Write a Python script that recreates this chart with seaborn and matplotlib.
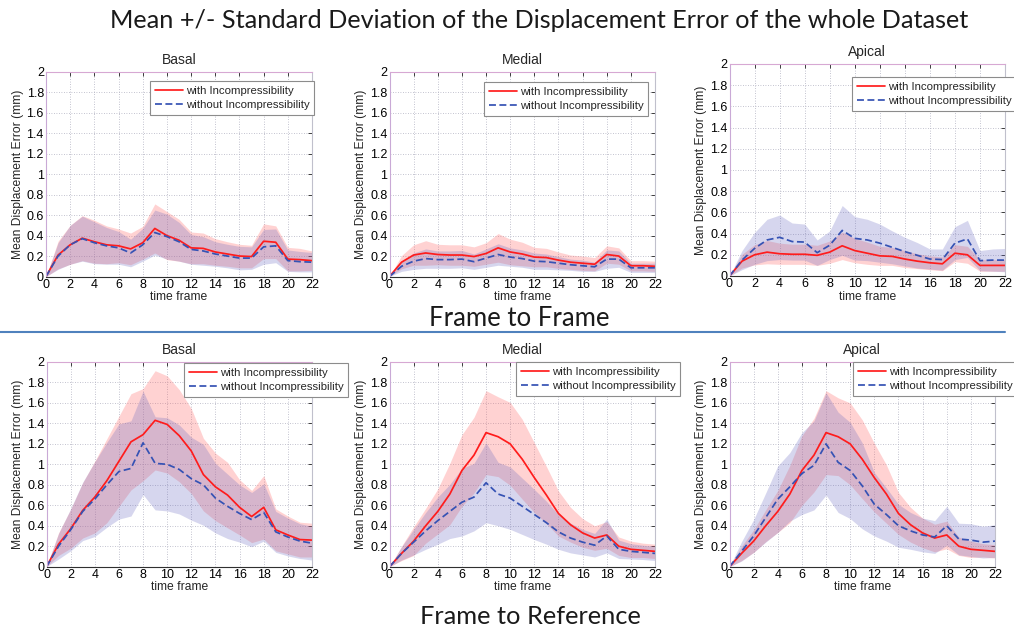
import numpy as np
import pandas as pd
import matplotlib
matplotlib.use("Agg")
import matplotlib.pyplot as plt
from matplotlib.lines import Line2D
import seaborn as sns

# ---------------------------------------------------------------- data
frames = list(range(23))
regions = ["Basal", "Medial", "Apical"]
series_labels = ["with Incompressibility", "without Incompressibility"]

# Frame to Frame: mean and standard deviation per time frame
f2f_basal_with_mean = [0, 0.21, 0.31, 0.375, 0.34, 0.31, 0.30, 0.27, 0.33, 0.47, 0.40, 0.355, 0.28,
                       0.275, 0.24, 0.22, 0.20, 0.195, 0.345, 0.335, 0.17, 0.165, 0.155]
f2f_basal_with_std = [0, 0.135, 0.19, 0.22, 0.21, 0.185, 0.165, 0.155, 0.16, 0.24, 0.235, 0.205, 0.155,
                      0.15, 0.13, 0.12, 0.115, 0.11, 0.17, 0.16, 0.115, 0.11, 0.095]
f2f_basal_without_mean = [0, 0.20, 0.31, 0.37, 0.33, 0.30, 0.28, 0.23, 0.31, 0.43, 0.39, 0.34, 0.265,
                          0.25, 0.22, 0.20, 0.18, 0.18, 0.29, 0.30, 0.155, 0.145, 0.14]
f2f_basal_without_std = [0, 0.13, 0.19, 0.22, 0.205, 0.18, 0.16, 0.135, 0.16, 0.22, 0.22, 0.19, 0.145,
                         0.14, 0.12, 0.115, 0.115, 0.11, 0.17, 0.165, 0.105, 0.10, 0.095]

f2f_medial_with_mean = [0, 0.14, 0.21, 0.23, 0.215, 0.21, 0.21, 0.195, 0.225, 0.28, 0.24, 0.22, 0.19,
                        0.185, 0.16, 0.14, 0.13, 0.12, 0.215, 0.20, 0.105, 0.105, 0.10]
f2f_medial_with_std = [0, 0.065, 0.10, 0.12, 0.10, 0.10, 0.10, 0.095, 0.105, 0.14, 0.125, 0.115, 0.095,
                       0.09, 0.08, 0.07, 0.07, 0.065, 0.085, 0.08, 0.05, 0.05, 0.05]
f2f_medial_without_mean = [0, 0.10, 0.15, 0.175, 0.165, 0.165, 0.17, 0.145, 0.18, 0.215, 0.19, 0.175, 0.15,
                           0.145, 0.13, 0.115, 0.105, 0.095, 0.17, 0.17, 0.085, 0.085, 0.085]
f2f_medial_without_std = [0, 0.05, 0.08, 0.095, 0.085, 0.085, 0.085, 0.075, 0.09, 0.105, 0.09, 0.085, 0.08,
                          0.075, 0.065, 0.055, 0.055, 0.045, 0.09, 0.08, 0.045, 0.045, 0.045]

f2f_apical_with_mean = [0, 0.14, 0.20, 0.225, 0.21, 0.205, 0.205, 0.195, 0.225, 0.285, 0.24, 0.215, 0.19,
                        0.185, 0.16, 0.14, 0.125, 0.115, 0.215, 0.20, 0.10, 0.10, 0.10]
f2f_apical_with_std = [0, 0.065, 0.095, 0.11, 0.10, 0.095, 0.095, 0.095, 0.105, 0.13, 0.115, 0.105, 0.09,
                       0.085, 0.08, 0.07, 0.065, 0.065, 0.08, 0.08, 0.055, 0.055, 0.055]
f2f_apical_without_mean = [0, 0.15, 0.26, 0.34, 0.365, 0.325, 0.32, 0.22, 0.29, 0.43, 0.355, 0.34, 0.31,
                           0.27, 0.23, 0.195, 0.16, 0.155, 0.31, 0.35, 0.145, 0.15, 0.15]
f2f_apical_without_std = [0, 0.09, 0.15, 0.195, 0.21, 0.175, 0.17, 0.12, 0.135, 0.235, 0.205, 0.195, 0.18,
                          0.155, 0.135, 0.12, 0.095, 0.10, 0.155, 0.175, 0.095, 0.105, 0.11]

# Frame to Reference: mean and standard deviation per time frame
f2r_basal_with_mean = [0, 0.22, 0.37, 0.55, 0.68, 0.84, 1.03, 1.22, 1.29, 1.43, 1.39, 1.28, 1.13,
                       0.90, 0.78, 0.70, 0.58, 0.49, 0.58, 0.36, 0.31, 0.265, 0.26]
f2r_basal_with_std = [0, 0.11, 0.19, 0.27, 0.35, 0.41, 0.44, 0.47, 0.45, 0.485, 0.475, 0.45, 0.415,
                      0.355, 0.33, 0.32, 0.27, 0.255, 0.31, 0.205, 0.185, 0.17, 0.165]
f2r_basal_without_mean = [0, 0.20, 0.36, 0.54, 0.66, 0.80, 0.93, 0.96, 1.21, 1.01, 1.00, 0.95, 0.86,
                          0.80, 0.67, 0.59, 0.52, 0.46, 0.53, 0.34, 0.29, 0.25, 0.23]
f2r_basal_without_std = [0, 0.125, 0.205, 0.285, 0.365, 0.415, 0.465, 0.465, 0.505, 0.455, 0.455, 0.435,
                         0.405, 0.395, 0.34, 0.315, 0.28, 0.265, 0.28, 0.20, 0.185, 0.17, 0.165]

f2r_medial_with_mean = [0, 0.13, 0.25, 0.40, 0.54, 0.71, 0.94, 1.09, 1.31, 1.27, 1.20, 1.05, 0.87,
                        0.70, 0.52, 0.41, 0.33, 0.28, 0.31, 0.20, 0.17, 0.16, 0.15]
f2r_medial_with_std = [0, 0.07, 0.14, 0.17, 0.22, 0.30, 0.35, 0.37, 0.41, 0.39, 0.405, 0.39, 0.34,
                       0.28, 0.22, 0.17, 0.14, 0.12, 0.13, 0.09, 0.08, 0.07, 0.07]
f2r_medial_without_mean = [0, 0.13, 0.24, 0.35, 0.45, 0.54, 0.63, 0.68, 0.82, 0.71, 0.67, 0.59, 0.51,
                           0.43, 0.34, 0.28, 0.24, 0.21, 0.30, 0.17, 0.15, 0.14, 0.13]
f2r_medial_without_std = [0, 0.065, 0.125, 0.18, 0.23, 0.265, 0.33, 0.33, 0.39, 0.31, 0.305, 0.275, 0.245,
                          0.21, 0.17, 0.145, 0.125, 0.115, 0.165, 0.09, 0.075, 0.07, 0.07]

f2r_apical_with_mean = [0, 0.13, 0.25, 0.40, 0.54, 0.71, 0.94, 1.09, 1.31, 1.27, 1.20, 1.05, 0.87,
                        0.71, 0.52, 0.41, 0.33, 0.28, 0.31, 0.20, 0.17, 0.16, 0.15]
f2r_apical_with_std = [0, 0.07, 0.11, 0.155, 0.205, 0.28, 0.34, 0.36, 0.41, 0.38, 0.40, 0.385, 0.335,
                       0.285, 0.205, 0.17, 0.145, 0.135, 0.135, 0.09, 0.08, 0.065, 0.065]
f2r_apical_without_mean = [0, 0.15, 0.30, 0.48, 0.66, 0.78, 0.91, 0.99, 1.20, 1.02, 0.94, 0.79, 0.61,
                           0.51, 0.40, 0.35, 0.31, 0.29, 0.40, 0.27, 0.26, 0.24, 0.25]
f2r_apical_without_std = [0, 0.095, 0.16, 0.24, 0.325, 0.335, 0.40, 0.435, 0.50, 0.49, 0.47, 0.42, 0.31,
                          0.26, 0.21, 0.18, 0.165, 0.16, 0.19, 0.155, 0.16, 0.155, 0.16]

x_ticks = list(range(0, 23, 2))
y_ticks = [0, 0.2, 0.4, 0.6, 0.8, 1, 1.2, 1.4, 1.6, 1.8, 2]
y_tick_labels = ["0", "0.2", "0.4", "0.6", "0.8", "1", "1.2", "1.4", "1.6", "1.8", "2"]

main_title = "Mean +/- Standard Deviation of the Displacement Error of the whole Dataset"
row_titles = ["Frame to Frame", "Frame to Reference"]

panels = [
    [(f2f_basal_with_mean, f2f_basal_with_std, f2f_basal_without_mean, f2f_basal_without_std),
     (f2f_medial_with_mean, f2f_medial_with_std, f2f_medial_without_mean, f2f_medial_without_std),
     (f2f_apical_with_mean, f2f_apical_with_std, f2f_apical_without_mean, f2f_apical_without_std)],
    [(f2r_basal_with_mean, f2r_basal_with_std, f2r_basal_without_mean, f2r_basal_without_std),
     (f2r_medial_with_mean, f2r_medial_with_std, f2r_medial_without_mean, f2r_medial_without_std),
     (f2r_apical_with_mean, f2r_apical_with_std, f2r_apical_without_mean, f2r_apical_without_std)],
]

# ---------------------------------------------------------------- layout (pixels)
W, H = 1014, 629
axes_px = [
    [(46, 72, 312, 276.5), (389.5, 72, 655, 276.5), (729.5, 64, 1005, 276)],
    [(46.5, 362, 312, 566.7), (389.5, 362, 655, 566.7), (729.5, 362, 995, 566.7)],
]
legend_px = [
    [(150, 81), (484, 82), (852, 77)],
    [(184, 363), (516, 362), (853, 362)],
]

RED = "#ff1c1c"
BLUE = "#3552b4"
RED_FILL = "#ff6060"
BLUE_FILL = "#6464be"

sns.set_style("white")
plt.rcParams["font.family"] = ["Liberation Sans", "DejaVu Sans"]

fig = plt.figure(figsize=(W / 100, H / 100), dpi=100)


def px_rect(l, t, r, b):
    return [l / W, 1 - b / H, (r - l) / W, (b - t) / H]


for row in range(2):
    for col in range(3):
        ax = fig.add_axes(px_rect(*axes_px[row][col]))
        wm, ws, om, os_ = (np.asarray(a, dtype=float) for a in panels[row][col])
        x = np.asarray(frames)

        # mean +/- std bands
        ax.fill_between(x, np.clip(wm - ws, 0, None), wm + ws, color=RED_FILL,
                        alpha=0.28, linewidth=0)
        ax.fill_between(x, np.clip(om - os_, 0, None), om + os_, color=BLUE_FILL,
                        alpha=0.26, linewidth=0)

        df = pd.DataFrame({
            "frame": np.concatenate([x, x]),
            "error": np.concatenate([wm, om]),
            "series": [series_labels[0]] * len(x) + [series_labels[1]] * len(x),
        })
        sns.lineplot(data=df, x="frame", y="error", hue="series", style="series",
                     palette={series_labels[0]: RED, series_labels[1]: BLUE},
                     dashes={series_labels[0]: "", series_labels[1]: (4, 2)},
                     linewidth=1.25, ax=ax, legend=False)

        ax.set_xlim(0, 22)
        ax.set_ylim(0, 2)
        ax.set_xticks(x_ticks)
        ax.set_yticks(y_ticks)
        ax.set_yticklabels(y_tick_labels)
        ax.grid(True, linestyle=(0, (1, 2)), color="#b0b0c0", linewidth=0.6)
        ax.tick_params(direction="in", length=3, width=0.6, top=True, right=True,
                       labelsize=9, pad=1.5, colors="#222222", labelcolor="black")
        for side, c in zip(["left", "top", "right", "bottom"],
                           ["#c9a9d6", "#d7a8d3", "#c0c0cc", "#303030"]):
            ax.spines[side].set_color(c)
            ax.spines[side].set_linewidth(0.8)

        ax.set_xlabel("time frame", fontsize=8.7, labelpad=0.5)
        ax.set_ylabel("Mean Displacement Error (mm)", fontsize=8.7, labelpad=2)
        ax.set_title(regions[col], fontsize=10, pad=6)

        handles = [Line2D([], [], color=RED, lw=1.25),
                   Line2D([], [], color=BLUE, lw=1.25, dashes=(4, 2))]
        lx, ly = legend_px[row][col]
        leg = ax.legend(handles, series_labels, loc="upper left",
                        bbox_to_anchor=(lx / W, 1 - ly / H), bbox_transform=fig.transFigure,
                        fontsize=8.2, frameon=True, fancybox=False, framealpha=1,
                        edgecolor="#8c8c8c", borderpad=0.42, handlelength=2.5,
                        handletextpad=0.2, labelspacing=0.35, borderaxespad=0)
        leg.get_frame().set_linewidth(0.8)

# headings
heading_font = ["Lato", "DejaVu Sans"]
fig.text(0.532, 1 - 20 / H, main_title, ha="center", va="center", fontsize=18.2,
         family=heading_font, color="#1a1a1a")
fig.text(0.512, 1 - 318 / H, row_titles[0], ha="center", va="center", fontsize=18.5,
         family=heading_font, color="#1a1a1a")
fig.text(0.523, 1 - 617 / H, row_titles[1], ha="center", va="center", fontsize=18.3,
         family=heading_font, color="#1a1a1a")

# separator between the two rows
fig.add_artist(Line2D([0, 1005 / W], [1 - 332 / H, 1 - 332 / H], transform=fig.transFigure,
                      color="#4f81bd", linewidth=1.5))

fig.savefig("out.png", dpi=100, facecolor="white")
